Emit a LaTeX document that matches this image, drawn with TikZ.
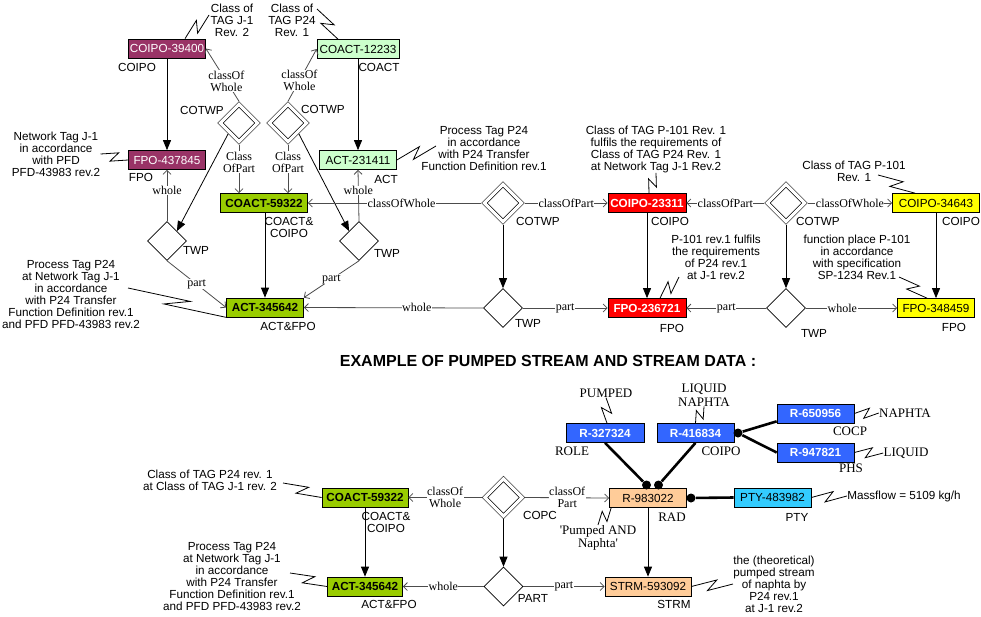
\documentclass[tikz,border=0pt]{standalone}
\usepackage{fontspec}
\setmainfont{Liberation Serif}
\setsansfont{Liberation Sans}
\usepackage{xcolor}
\usepackage{tikz}
\usetikzlibrary{shapes.geometric,arrows.meta,calc}

\definecolor{tagPlum}{HTML}{993366}
\definecolor{paleGreen}{HTML}{CCFFCC}
\definecolor{limeGreen}{HTML}{99CC00}
\definecolor{tagRed}{HTML}{FF0000}
\definecolor{tagYellow}{HTML}{FFFF00}
\definecolor{tagBlue}{HTML}{3366FF}
\definecolor{tagPeach}{HTML}{FFCC99}
\definecolor{tagCyan}{HTML}{33CCFF}

\newcommand{\sanstxt}{\sffamily\fontsize{11.7}{12}\selectfont}
\newcommand{\reltxt}{\rmfamily\fontsize{12}{12}\selectfont}
\newcommand{\captxt}{\rmfamily\fontsize{13}{13.5}\selectfont}

\begin{document}
\begin{tikzpicture}[x=1pt, y=-1pt, line width=0.8pt,
    tagbox/.style={rectangle, draw, line width=0.7pt, minimum width=77pt, minimum height=19pt, inner sep=1pt, font=\sanstxt},
    hot/.style={font=\sanstxt\bfseries},
    typelbl/.style={font=\sanstxt, align=center, inner sep=0pt},
    note/.style={font=\sanstxt, align=center, inner sep=0pt},
    capnote/.style={font=\captxt, align=center, inner sep=0pt},
    rellbl/.style={font=\reltxt, fill=white, align=center, inner sep=0.5pt},
    cotwp/.style={diamond, draw, double, double distance=3.2pt, line width=0.6pt, minimum width=39pt, minimum height=39pt, inner sep=0pt, outer sep=2.2pt},
    twp/.style={diamond, draw, line width=0.6pt, minimum width=39pt, minimum height=39pt, inner sep=0pt},
    heavy/.style={draw=black, -{Triangle[length=10pt,width=8pt]}},
    rel/.style={draw=black!70, -{Straight Barb[length=4pt,width=8pt]}},
    zig/.style={draw=black, line width=0.6pt, to path={-- ($(\tikztostart)!.62!(\tikztotarget)!5pt!90:(\tikztotarget)$) -- ($(\tikztostart)!.38!(\tikztotarget)!5pt!-90:(\tikztotarget)$) -- (\tikztotarget)}},
    link/.style={line width=2.6pt},
    dot/.style={circle, fill=black, inner sep=0pt, minimum size=9pt}]
    \useasboundingbox (0,0) rectangle (981,616);

    % Nodes (top)
    \node[tagbox, fill=tagPlum, text=white] (coipoA) at (167,48.5) {COIPO-39400};
    \node[tagbox, fill=paleGreen, minimum width=82pt] (coactA) at (358,49) {COACT-12233};
    \node[tagbox, fill=tagPlum, text=white] (fpoA) at (167,160) {FPO-437845};
    \node[tagbox, fill=paleGreen] (actA) at (358,160) {ACT-231411};
    \node[tagbox, fill=limeGreen, hot, minimum width=87pt] (coactB) at (264,203) {COACT-59322};
    \node[tagbox, fill=limeGreen, hot] (actB) at (265,307.5) {ACT-345642};
    \node[tagbox, fill=tagRed, text=white, hot, minimum width=78pt] (coipoB) at (647,203) {COIPO-23311};
    \node[tagbox, fill=tagRed, text=white, hot, minimum width=78pt] (fpoB) at (647,308) {FPO-236721};
    \node[tagbox, fill=tagYellow, minimum width=87pt] (coipoC) at (936,203) {COIPO-34643};
    \node[tagbox, fill=tagYellow] (fpoC) at (936,308) {FPO-348459};

    \node[cotwp] (cotwpA) at (239,123) {};
    \node[cotwp] (cotwpB) at (288,123) {};
    \node[cotwp] (cotwpC) at (503,203) {};
    \node[cotwp] (cotwpD) at (786,203) {};
    \node[twp] (twpA) at (167,241) {};
    \node[twp] (twpB) at (359,241) {};
    \node[twp] (twpC) at (503,308) {};
    \node[twp] (twpD) at (786,308) {};

    \node[typelbl] (tA1) at (137,67) {COIPO};
    \node[typelbl] (tA2) at (379,67) {COACT};
    \node[typelbl] (tA3) at (141,177) {FPO};
    \node[typelbl] (tA4) at (386,179) {ACT};
    \node[typelbl] (tA5) at (289,227) {COACT\&\\COIPO};
    \node[typelbl] (tA6) at (288,326) {ACT\&FPO};
    \node[typelbl] (tA7) at (202,110) {COTWP};
    \node[typelbl] (tA8) at (323,109) {COTWP};
    \node[typelbl] (tA9) at (196,250) {TWP};
    \node[typelbl] (tA10) at (387,253) {TWP};
    \node[typelbl] (tC1) at (538,221) {COTWP};
    \node[typelbl] (tC2) at (528,323) {TWP};
    \node[typelbl] (tC3) at (670,221) {COIPO};
    \node[typelbl] (tC4) at (672,328) {FPO};
    \node[typelbl] (tD1) at (818,221) {COTWP};
    \node[typelbl] (tD2) at (814,333) {TWP};
    \node[typelbl] (tD3) at (961,221) {COIPO};
    \node[typelbl] (tD4) at (954,327) {FPO};

    % Connections (top)
    \draw[rel] (cotwpA.north) -- node[rellbl, pos=.38] (lA1) {classOf\\Whole} (coipoA.east);
    \draw[rel] (cotwpB.north) -- node[rellbl, pos=.4] (lA2) {classOf\\Whole} (coactA.west);
    \draw[rel] (cotwpA.south) -- node[rellbl, pos=.36] (lA3) {Class\\OfPart} (cotwpA.south |- coactB.north);
    \draw[rel] (cotwpB.south) -- node[rellbl, pos=.36] (lA4) {Class\\OfPart} (cotwpB.south |- coactB.north);
    \draw[heavy] (cotwpA.south west) -- (twpA.north east);
    \draw[heavy] (cotwpB.south east) -- (twpB.north west);
    \draw[rel] (twpA.north) -- node[rellbl, pos=.6] (lA5) {whole} (fpoA.south);
    \draw[rel] (twpB.north) -- node[rellbl, pos=.6] (lA6) {whole} (actA.south);
    \draw[rel] (twpA.south) -- node[rellbl] (lA7) {part} (actB.west);
    \draw[rel] (twpB.south) -- node[rellbl] (lA8) {part} (actB.north east);
    \draw[heavy] (coipoA) -- (fpoA);
    \draw[heavy] (coactA) -- (actA);
    \draw[heavy] (coactB.south -| actB.north) -- (actB.north);

    \draw[rel] (cotwpC.west) -- node[rellbl, pos=.46] (lC1) {classOfWhole} (coactB.east);
    \draw[rel] (cotwpC.east) -- node[rellbl] (lC2) {classOfPart} (coipoB.west);
    \draw[heavy] (cotwpC) -- (twpC);
    \draw[rel] (twpC.west) -- node[rellbl, pos=.37] (lC3) {whole} (actB.east);
    \draw[rel] (twpC.east) -- node[rellbl] (lC4) {part} (fpoB.west);
    \draw[heavy] (coipoB) -- (fpoB);

    \draw[rel] (cotwpD.west) -- node[rellbl] (lD1) {classOfPart} (coipoB.east);
    \draw[rel] (cotwpD.east) -- node[rellbl] (lD2) {classOfWhole} (coipoC.west);
    \draw[heavy] (cotwpD) -- (twpD);
    \draw[rel] (twpD.west) -- node[rellbl] (lD3) {part} (fpoB.east);
    \draw[rel] (twpD.east) -- node[rellbl, pos=.4] (lD4) {whole} (fpoC.west);
    \draw[heavy] (coipoC) -- (fpoC);

    % Annotations (top)
    \node[note] (nA1) at (232,20) {Class of\\TAG J-1\\Rev. 2};
    \node[note] (nA2) at (292,20) {Class of\\TAG P24\\Rev. 1};
    \node[note] (nA3) at (56,154) {Network Tag J-1\\in accordance\\with PFD\\PFD-43983 rev.2};
    \node[note] (nA4) at (484,148) {Process Tag P24\\in accordance\\with P24 Transfer\\Function Definition rev.1};
    \node[note] (nA5) at (71,294) {Process Tag P24\\at Network Tag J-1\\in accordance\\with P24 Transfer\\Function Definition rev.1\\and PFD PFD-43983 rev.2};
    \node[note] (nA6) at (656,149) {Class of TAG P-101 Rev. 1\\fulfils the requirements of\\Class of TAG P24 Rev. 1\\at Network Tag J-1 Rev.2};
    \node[note] (nA7) at (716,257) {P-101 rev.1 fulfils\\the requirements\\of P24 rev.1\\at J-1 rev.2};
    \node[note] (nA8) at (854,171) {Class of TAG P-101\\Rev. 1};
    \node[note] (nA9) at (857,257) {function place P-101\\in accordance\\with specification\\SP-1234 Rev.1};

    \coordinate (kA1) at (209,15);
    \coordinate (kA2) at (317,9);
    \coordinate (kA4) at (436,146);
    \coordinate (kA5) at (128,288);
    \coordinate (kA7) at (679,277);
    \coordinate (kA8) at (878,175);
    \coordinate (kA9) at (899,277);

    \draw ($(coipoA.north)+(18,0)$) to[zig] (kA1);
    \draw ($(coactA.north)+(-20,0)$) to[zig] (kA2);
    \draw (fpoA.west) to[zig] (nA3.east);
    \draw (actA.east) to[zig] (kA4);
    \draw (actB.south west) to[zig] (kA5);
    \draw ($(coipoB.north)+(2,0)$) to[zig] (nA6.south);
    \draw ($(fpoB.north)+(13,0)$) to[zig] (kA7);
    \draw ($(coipoC.north)+(-21,0)$) to[zig] (kA8);
    \draw ($(fpoC.north)+(-9,0)$) to[zig] (kA9);

    \node[font=\sffamily\bfseries\fontsize{16}{16}\selectfont, inner sep=0pt] (title) at (548,361) {EXAMPLE OF PUMPED STREAM AND STREAM DATA :};

    % Nodes (bottom)
    \node[tagbox, fill=tagBlue, text=white, hot, minimum width=78pt] (roleR) at (605,433) {R-327324};
    \node[tagbox, fill=tagBlue, text=white, hot] (coipoR) at (695.5,433) {R-416834};
    \node[tagbox, fill=tagBlue, text=white, hot] (cocpR) at (815.5,413.5) {R-650956};
    \node[tagbox, fill=tagBlue, text=white, hot] (phsR) at (815.5,452.5) {R-947821};
    \node[tagbox, fill=tagPeach] (radR) at (648,498) {R-983022};
    \node[tagbox, fill=tagCyan] (ptyR) at (772.5,497.5) {PTY-483982};
    \node[tagbox, fill=tagPeach, minimum width=86pt] (strmR) at (648,586.5) {STRM-593092};
    \node[tagbox, fill=limeGreen, hot, minimum width=86pt] (coactC) at (365,497.5) {COACT-59322};
    \node[tagbox, fill=limeGreen, hot, minimum width=75pt] (actC) at (365,586.5) {ACT-345642};
    \node[cotwp] (copc) at (503.5,497.5) {};
    \node[twp] (partD) at (503.5,586.5) {};

    \node[typelbl, font=\captxt] (tE1) at (572,451) {ROLE};
    \node[typelbl, font=\captxt] (tE2) at (721,451) {COIPO};
    \node[typelbl, font=\captxt] (tE3) at (850,431) {COCP};
    \node[typelbl, font=\captxt] (tE4) at (851,468) {PHS};
    \node[typelbl, font=\captxt] (tE5) at (672,517) {RAD};
    \node[typelbl] (tE6) at (797,517) {PTY};
    \node[typelbl] (tE7) at (674,604) {STRM};
    \node[typelbl] (tE8) at (540,515) {COPC};
    \node[typelbl] (tE9) at (533,598) {PART};
    \node[typelbl] (tE10) at (386,522) {COACT\&\\COIPO};
    \node[typelbl] (tE11) at (389,604) {ACT\&FPO};

    % Connections (bottom)
    \node[dot] (dotA) at (646.5,485) {};
    \node[dot] (dotB) at (658.5,485) {};
    \node[dot] (dotC) at (738,433) {};
    \node[dot] (dotD) at (691,498) {};
    \draw[link] (roleR.south) -- (dotA);
    \draw[link] (coipoR.south) -- (dotB);
    \draw[link] (dotC) -- ($(cocpR.south west)+(0,-2)$);
    \draw[link] (dotC) -- (phsR.west);
    \draw[link] (dotD) -- (ptyR.west);

    \draw[rel] (copc.west) -- node[rellbl] (lE1) {classOf\\Whole} (coactC.east);
    \draw[rel] (copc.east) -- node[rellbl] (lE2) {classOf\\Part} (radR.west);
    \draw[heavy] (copc) -- (partD);
    \draw[rel] (partD.west) -- node[rellbl] (lE3) {whole} (actC.east);
    \draw[rel] (partD.east) -- node[rellbl] (lE4) {part} (strmR.west);
    \draw[heavy] (coactC) -- (actC);
    \draw[heavy] (radR) -- (strmR);

    % Annotations (bottom)
    \node[capnote] (nB1) at (606,393) {PUMPED};
    \node[capnote] (nB2) at (704,395) {LIQUID\\NAPHTA};
    \node[capnote] (nB3) at (905,413) {NAPHTA};
    \node[capnote] (nB4) at (906,453) {LIQUID};
    \node[note] (nB5) at (904,496) {Massflow = 5109 kg/h};
    \node[capnote] (nB6) at (598,538) {\textquotesingle Pumped AND\\Naphta\textquotesingle};
    \node[note] (nB7) at (774,584) {the (theoretical)\\pumped stream\\of naphta by\\P24 rev.1\\at J-1 rev.2};
    \node[note] (nB8) at (210,480) {Class of TAG P24 rev. 1\\at Class of TAG J-1 rev. 2};
    \node[note] (nB9) at (232,576) {Process Tag P24\\at Network Tag J-1\\in accordance\\with P24 Transfer\\Function Definition rev.1\\and PFD PFD-43983 rev.2};

    \coordinate (kB8) at (283,483);
    \coordinate (kB9) at (290,573);

    \draw ($(roleR.north)+(2,0)$) to[zig] (nB1.south);
    \draw (coipoR.north) to[zig] (nB2.south);
    \draw (cocpR.east) to[zig] (nB3.west);
    \draw (phsR.east) to[zig] (nB4.west);
    \draw (ptyR.east) to[zig] (nB5.west);
    \draw ($(radR.south west)+(2,0)$) to[zig] (nB6.north);
    \draw (strmR.east) to[zig] (nB7.west);
    \draw (coactC.west) to[zig] (kB8);
    \draw (actC.west) to[zig] (kB9);
\end{tikzpicture}
\end{document}
